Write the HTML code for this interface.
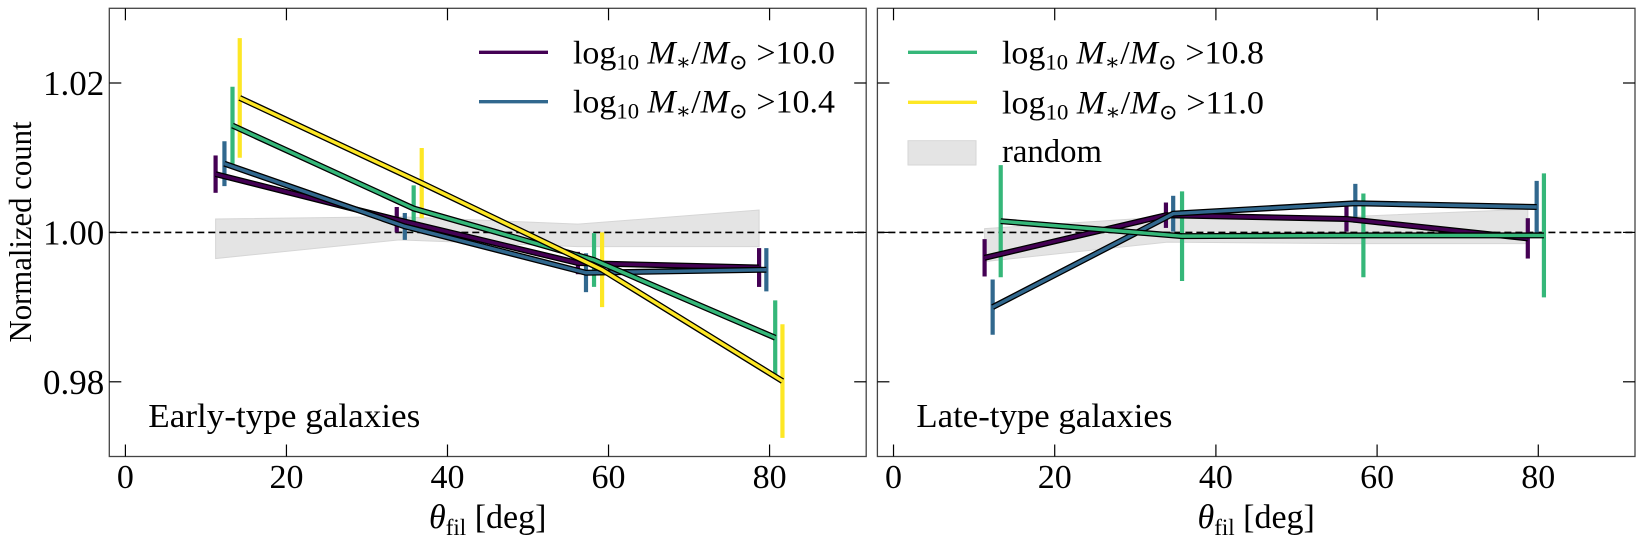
<!DOCTYPE html>
<html><head><meta charset="utf-8">
<style>
html,body{margin:0;padding:0;background:#fff;}
svg{display:block;font-family:"Liberation Serif","DejaVu Serif",serif;}
</style></head>
<body>
<svg id="chart" width="1644" height="542" viewBox="0 0 1644 542" xmlns="http://www.w3.org/2000/svg"></svg>
<script>
// ---- data ----
const xTicks = [0, 20, 40, 60, 80];
const yTicks = [0.98, 1.00, 1.02];
const yTickLabels = ["0.98", "1.00", "1.02"];
const seriesNames = ["10.0", "10.4", "10.8", "11.0"];
const seriesColors = ["#440154", "#31688e", "#35b779", "#fde725"];

// Early-type panel
const earlyX = [
  [11.2, 33.7, 56.2, 78.7],
  [12.3, 34.7, 57.2, 79.6],
  [13.3, 35.8, 58.2, 80.7],
  [14.2, 36.8, 59.2, 81.6]
];
const earlyY = [
  [1.0078, 1.0017, 0.9959, 0.9953],
  [1.0092, 1.0008, 0.9946, 0.9950],
  [1.0143, 1.0032, 0.9963, 0.9859],
  [1.0180, 1.0066, 0.9950, 0.9801]
];
const earlyErr = [
  [0.0025, 0.0017, 0.0015, 0.0026],
  [0.0030, 0.0018, 0.0026, 0.0029],
  [0.0052, 0.0031, 0.0036, 0.0050],
  [0.0080, 0.0047, 0.0050, 0.0076]
];
const earlyRandX = [11.2, 34, 56.2, 78.7];
const earlyRandHi = [1.0018, 1.0021, 1.0011, 1.0030];
const earlyRandLo = [0.9965, 0.9990, 0.9981, 0.9981];

// Late-type panel
const lateX = [
  [11.3, 33.8, 56.2, 78.7],
  [12.3, 34.7, 57.3, 79.8],
  [13.3, 35.8, 58.3, 80.7]
];
const lateY = [
  [0.9966, 1.0023, 1.0018, 0.9992],
  [0.9900, 1.0025, 1.0039, 1.0034],
  [1.0015, 0.9995, 0.9996, 0.9996]
];
const lateErr = [
  [0.0025, 0.0017, 0.0017, 0.0027],
  [0.0037, 0.0024, 0.0026, 0.0035],
  [0.0075, 0.0060, 0.0056, 0.0083]
];
const lateRandX = [11.3, 34, 56.2, 78.7];
const lateRandHi = [1.0005, 1.0021, 1.0021, 1.0031];
const lateRandLo = [0.9961, 0.9987, 0.9985, 0.9985];

// ---- layout ----
const NS = "http://www.w3.org/2000/svg";
const svg = document.getElementById("chart");
const X0 = -2, X1 = 92, Y0 = 0.97, Y1 = 1.03;
const TOP = 8.3, BOT = 456.5;

function mk(tag, attrs, parent) {
  const e = document.createElementNS(NS, tag);
  for (const k in attrs) e.setAttribute(k, attrs[k]);
  (parent || svg).appendChild(e);
  return e;
}

function panel(left, right, xs, ys, errs, rx, rhi, rlo, title, titleLen, pname) {
  const g = mk("g", {});
  
  
  const sx = v => left + (v - X0) / (X1 - X0) * (right - left);
  const sy = v => BOT - (v - Y0) / (Y1 - Y0) * (BOT - TOP);

  let pts = [];
  for (let i = 0; i < rx.length; i++) pts.push(sx(rx[i]) + "," + sy(rhi[i]));
  for (let i = rx.length - 1; i >= 0; i--) pts.push(sx(rx[i]) + "," + sy(rlo[i]));
  const band = mk("polygon", {points: pts.join(" "), fill: "#e4e4e4", stroke: "#d6d6d6", "stroke-width": 1}, g);
  
  

  const ref = mk("line", {x1: left, x2: right, y1: sy(1), y2: sy(1), stroke: "#000", "stroke-width": 1.6, "stroke-dasharray": "7,4"}, g);
  
  

  for (let s = 0; s < xs.length; s++) {
    for (let i = 0; i < xs[s].length; i++) {
      const eb = mk("line", {x1: sx(xs[s][i]), x2: sx(xs[s][i]), y1: sy(ys[s][i] - errs[s][i]), y2: sy(ys[s][i] + errs[s][i]), stroke: seriesColors[s], "stroke-width": 4.2}, g);
      
      
    }
  }
  for (let s = 0; s < xs.length; s++) {
    const p = xs[s].map((x, i) => sx(x) + "," + sy(ys[s][i])).join(" ");
    const o = mk("polyline", {points: p, fill: "none", stroke: "#000", "stroke-width": 6, "stroke-linejoin": "miter"}, g);
    
    
    const l = mk("polyline", {points: p, fill: "none", stroke: seriesColors[s], "stroke-width": 3.4, "stroke-linejoin": "miter"}, g);
    
    
  }

  const fr = mk("rect", {x: left, y: TOP, width: right - left, height: BOT - TOP, fill: "none", stroke: "#444", "stroke-width": 1.3}, g);
  
  

  xTicks.forEach(t => {
    const x = sx(t);
    mk("line", {x1: x, x2: x, y1: BOT, y2: BOT - 12, stroke: "#000", "stroke-width": 1.2}, g);
    mk("line", {x1: x, x2: x, y1: TOP, y2: TOP + 12, stroke: "#000", "stroke-width": 1.2}, g);
    const tl = mk("text", {x: x, y: 488, "text-anchor": "middle", "font-size": 34}, g);
    
    
    tl.textContent = t;
  });
  yTicks.forEach((t, i) => {
    const y = sy(t);
    mk("line", {x1: left, x2: left + 12, y1: y, y2: y, stroke: "#000", "stroke-width": 1.2}, g);
    mk("line", {x1: right, x2: right - 12, y1: y, y2: y, stroke: "#000", "stroke-width": 1.2}, g);
    if (pname === "early-type-panel") {
      const tl = mk("text", {x: left - 5, y: y + 12, "text-anchor": "end", "font-size": 35}, g);
      
      
      tl.textContent = yTickLabels[i];
    }
  });

  const xl = mk("text", {x: (left + right) / 2, y: 528, "text-anchor": "middle", "font-size": 34}, g);
  
  
  xl.innerHTML = '<tspan font-style="italic">θ</tspan><tspan font-size="23" dy="7">fil</tspan><tspan dy="-7"> [deg]</tspan>';

  const tt = mk("text", {x: left + 39, y: 427, "font-size": 34, textLength: titleLen, lengthAdjust: "spacingAndGlyphs"}, g);
  
  
  tt.textContent = title;
  return {sx, sy};
}

panel(109.3, 866.2, earlyX, earlyY, earlyErr, earlyRandX, earlyRandHi, earlyRandLo, "Early-type galaxies", 272, "early-type-panel");
panel(877.4, 1635, lateX, lateY, lateErr, lateRandX, lateRandHi, lateRandLo, "Late-type galaxies", 256, "late-type-panel");

const yt = mk("text", {x: 0, y: 0, "text-anchor": "middle", "font-size": 32, transform: "translate(31,232) rotate(-90)", textLength: 221, lengthAdjust: "spacingAndGlyphs"});


yt.textContent = "Normalized count";

function legendEntry(x0, y, color, label) {
  const g = mk("g", {});
  
  
  mk("line", {x1: x0, x2: x0 + 69, y1: y, y2: y, stroke: color, "stroke-width": 3.4}, g);
  const t = mk("text", {x: x0 + 94, y: y + 11, "font-size": 33, textLength: 262, lengthAdjust: "spacingAndGlyphs"}, g);
  t.innerHTML = 'log<tspan font-size="22" dy="6">10</tspan><tspan dy="-6" font-style="italic"> M</tspan><tspan font-size="22" dy="6">∗</tspan><tspan dy="-6">/</tspan><tspan font-style="italic">M</tspan><tspan font-size="22" dy="6">⊙</tspan><tspan dy="-6"> &gt;' + label + '</tspan>';
}
legendEntry(479, 52.3, seriesColors[0], seriesNames[0]);
legendEntry(479, 101.7, seriesColors[1], seriesNames[1]);
legendEntry(908, 52.3, seriesColors[2], seriesNames[2]);
legendEntry(908, 102.3, seriesColors[3], seriesNames[3]);
const rg = mk("g", {});


mk("rect", {x: 908, y: 140.7, width: 68, height: 24.3, fill: "#e4e4e4", stroke: "#d6d6d6", "stroke-width": 1}, rg);
const rt = mk("text", {x: 1002, y: 162, "font-size": 33, textLength: 100, lengthAdjust: "spacingAndGlyphs"}, rg);
rt.textContent = "random";
</script>
</body></html>
